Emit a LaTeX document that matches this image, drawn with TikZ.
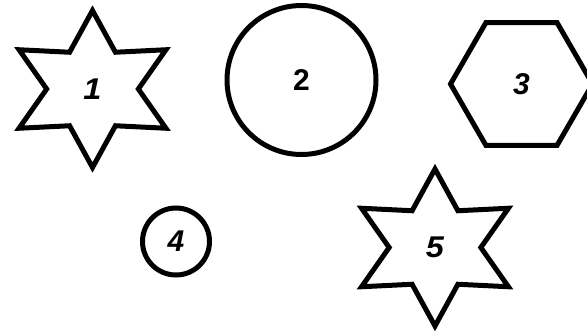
\documentclass[tikz,border=0pt]{standalone}
\usepackage{fontspec}
\setmainfont{Liberation Sans}
\usetikzlibrary{shapes.geometric}

\begin{document}
\begin{tikzpicture}[x=1pt, y=-1pt,
  shp/.style={draw, line width=5pt, inner sep=0pt,
              font=\fontsize{30}{30}\selectfont\bfseries\itshape},
  starsix/.style={shp, star, star points=6, star point ratio=1.85,
                  minimum size=157pt, xscale=1.08, transform shape},
  ring/.style={shp, circle},
  hexa/.style={shp, regular polygon, regular polygon sides=6, minimum size=142pt}]
  \useasboundingbox (0,0) rectangle (587,332);
  \node[starsix] (sA) at (92.5,89) {1};
  \node[ring, minimum size=149pt] (cA) at (301.5,80) {\upshape 2};
  \node[hexa] (hx) at (521.5,84) {3};
  \node[ring, minimum size=67pt] (cB) at (176,241.5) {4};
  \node[starsix] (sB) at (435,247.5) {5};
\end{tikzpicture}
\end{document}
